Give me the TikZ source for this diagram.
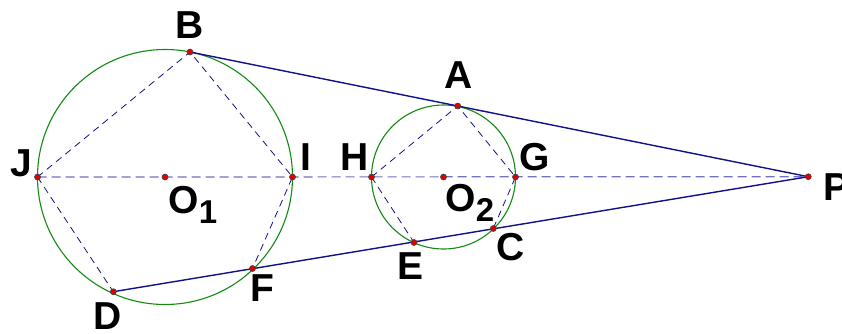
\documentclass[tikz,border=0pt]{standalone}
\usepackage{fontspec}
\setmainfont{Liberation Sans}
\usetikzlibrary{positioning}
\definecolor{CircGreen}{HTML}{138A13}
\definecolor{LineNavy}{HTML}{10108A}
\definecolor{AxisBlue}{HTML}{7070C4}
\definecolor{PtRed}{HTML}{E00000}
\tikzset{
  every node/.style={font=\fontsize{39}{39}\selectfont\bfseries, text=black, inner sep=0pt},
  circ/.style={draw=CircGreen, line width=1.1pt},
  tangent/.style={draw=LineNavy, line width=1.4pt},
  chord/.style={draw=LineNavy, line width=0.8pt, dash pattern=on 7pt off 5pt},
  axis/.style={draw=AxisBlue, line width=1.2pt, dash pattern=on 9pt off 5pt},
  pt/.style={fill=PtRed, draw=black!75, line width=0.6pt},
}
\newcommand{\lowidx}[1]{\raisebox{-10pt}{\fontsize{33}{33}\selectfont #1}}

\begin{document}
\begin{tikzpicture}[x=1pt,y=-1pt]
  \useasboundingbox (0,0) rectangle (842,333);
  % points (pixel coordinates, y downwards)
  \coordinate (O1) at (165,177);
  \coordinate (O2) at (443.5,177);
  \coordinate (J) at (37.5,177);
  \coordinate (I) at (292.5,177);
  \coordinate (H) at (371.5,177);
  \coordinate (G) at (515.5,177);
  \coordinate (P) at (808.3,176.7);
  \coordinate (B) at (190,52);
  \coordinate (A) at (457.7,106);
  \coordinate (D) at (113.3,291.7);
  \coordinate (F) at (252.5,268.5);
  \coordinate (E) at (414,242.5);
  \coordinate (C) at (493.3,228.5);
  % dashed chords and centre line
  \draw[axis] (J) -- (P);
  \draw[chord] (J) -- (B) -- (I) -- (F);
  \draw[chord] (J) -- (D);
  \draw[chord] (H) -- (A) -- (G) -- (C);
  \draw[chord] (H) -- (E);
  % circles
  \draw[circ] (O1) circle (127.5);
  \draw[circ] (O2) circle (72);
  % secants through P
  \draw[tangent] (B) -- (P);
  \draw[tangent] (D) -- (P);
  % points
  \foreach \p in {O1,O2,J,I,H,G,P,B,A,D,F,E,C}{
    \fill[pt] (\p) circle (3);
  }
  % labels
  \node (lB) at (190,25) {B};
  \node (lA) at (459,75) {A};
  \node (lJ) at (21,163) {J};
  \node (lI) at (306,157) {I};
  \node (lH) at (355,157) {H};
  \node (lG) at (535,157) {G};
  \node (lP) at (836,187) {P};
  \node (lO1) at (193,205) {O\lowidx{1}};
  \node (lO2) at (470,203) {O\lowidx{2}};
  \node (lC) at (511,247) {C};
  \node (lE) at (410,266) {E};
  \node (lF) at (262,288) {F};
  \node (lD) at (108,316) {D};
\end{tikzpicture}
\end{document}
